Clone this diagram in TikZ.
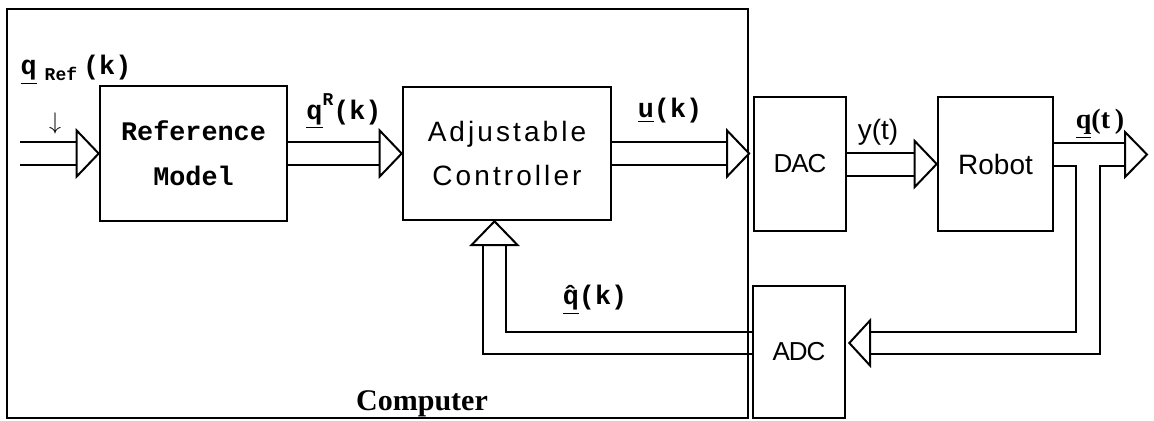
\documentclass[tikz,border=0pt]{standalone}
\usepackage{fontspec}
\setmainfont{Liberation Serif}
\newfontfamily\monofont{Liberation Mono}
\newfontfamily\sansfont{Liberation Sans}
\newfontfamily\spacedfont[LetterSpace=11]{Liberation Sans}
\newfontfamily\narrowfont[LetterSpace=-4]{Liberation Sans}
\usetikzlibrary{calc}

\tikzset{
  blk/.style={draw, line width=1.3pt, inner sep=0pt},
  wire/.style={line width=1pt},
  lbl/.style={inner sep=0pt, font=\monofont\bfseries\fontsize{13.4}{16}\selectfont},
}

\newcommand{\pipearrow}[2]{%
  \draw[wire] ([yshift=5.75pt]#1) -- ([xshift=-11pt,yshift=5.75pt]#2)
    ([yshift=-5.75pt]#1) -- ([xshift=-11pt,yshift=-5.75pt]#2);
  \draw[wire,fill=white] ([xshift=-11pt,yshift=11.5pt]#2) -- (#2)
    -- ([xshift=-11pt,yshift=-11.5pt]#2) -- cycle;}

\begin{document}
\begin{tikzpicture}[x=0.5pt,y=-0.5pt]
    \useasboundingbox (0,0) rectangle (1154,420);

    \node[draw, line width=1.1pt, minimum width=370.5pt, minimum height=204.5pt] (comp) at (377.5,213.5) {};
    \node[font=\bfseries\fontsize{15}{18}\selectfont] (complbl) at (422,404) {Computer};

    \node[blk, minimum width=93.5pt, minimum height=67.5pt, align=center,
      font=\monofont\bfseries\fontsize{13.4}{22.5}\selectfont] (refmod) at (193.5,153.5) {Reference\\Model};
    \node[blk, minimum width=104pt, minimum height=66.5pt, align=center,
      font=\spacedfont\fontsize{14}{22}\selectfont] (adjctrl) at (507,153.5) {Adjustable\\Controller};
    \node[blk, minimum width=46pt, minimum height=67pt,
      font=\narrowfont\fontsize{13}{15}\selectfont] (dac) at (800,164) {DAC};
    \node[blk, minimum width=57.5pt, minimum height=67pt,
      font=\sansfont\fontsize{14}{16}\selectfont] (robot) at (995.5,164) {Robot};
    \node[blk, minimum width=46pt, minimum height=66pt,
      font=\narrowfont\fontsize{13}{15}\selectfont] (adc) at (799,352) {ADC};

    \coordinate (qin) at (20,153.5);
    \coordinate (dacin) at (adjctrl.east -| comp.east);
    \pipearrow{qin}{refmod.west}
    \pipearrow{refmod.east}{adjctrl.west}
    \pipearrow{adjctrl.east}{dacin}
    \pipearrow{dac.east}{robot.west}

    \coordinate (qout) at (1147,154.5);
    \coordinate (adcin) at ([xshift=1.5pt]adc.east |- 0,343);
    \draw[wire] (robot.east |- 0,143) -- (1125,143);
    \draw[wire] (robot.east |- 0,166) -- (1076,166) -- (1076,332) -- (870,332);
    \draw[wire] (1125,166) -- (1100,166) -- (1100,354) -- (870,354);
    \draw[wire,fill=white] (1125,132) -- (qout) -- (1125,177) -- cycle;
    \draw[wire,fill=white] (870,320.5) -- (adcin) -- (870,365.5) -- cycle;

    \coordinate (fbtip) at (adjctrl.south -| 494.5,0);
    \draw[wire] (adc.west |- 0,332) -- (506,332) -- (506,245);
    \draw[wire] (adc.west |- 0,354) -- (483,354) -- (483,245);
    \draw[wire,fill=white] (471.5,245) -- (fbtip) -- (517.5,245) -- cycle;

    \node[lbl] (qreflbl) at (76,70) {\underline{q}\hspace{4pt}\raisebox{-3pt}{\fontsize{9}{10}\selectfont Ref}\hspace{3pt}(k)};
    \node[font=\fontsize{13}{15}\selectfont] (inmark) at (55,123) {$\downarrow$};
    \node[lbl] (qrlbl) at (344,111) {\underline{q}\raisebox{7pt}{\fontsize{9}{10}\selectfont R}(k)};
    \node[lbl] (ulbl) at (670,111) {\underline{u}(k)};
    \node[inner sep=0pt, font=\sansfont\fontsize{14}{16}\selectfont] (ylbl) at (878,132) {y(t)};
    \node[inner sep=0pt, font=\bfseries\fontsize{14}{16}\selectfont] (qtlbl) at (1100,124) {\underline{q}(t\,)};
    \node[lbl] (qhatlbl) at (595,300) {\underline{\^{q}}(k)};

\end{tikzpicture}
\end{document}
